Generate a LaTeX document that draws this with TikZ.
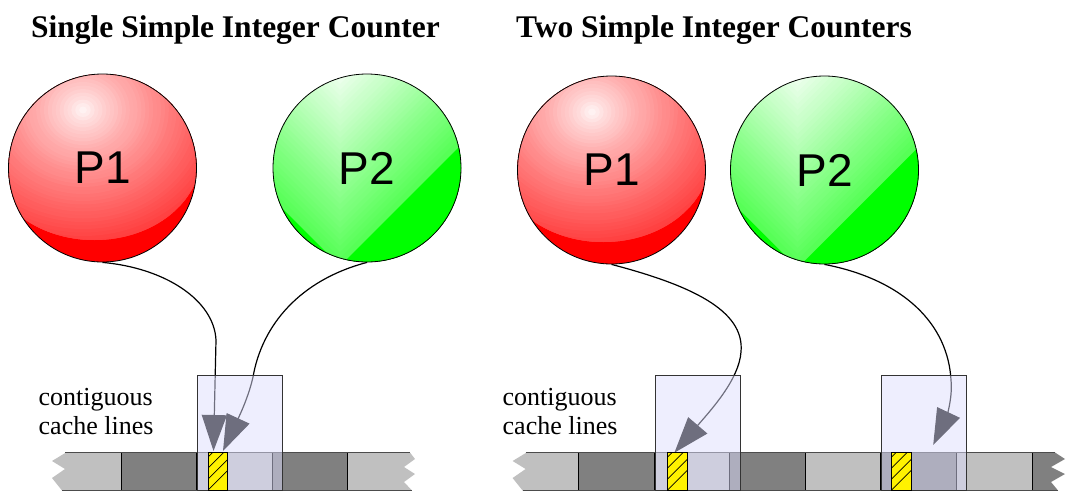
\documentclass[tikz,border=0pt]{standalone}
\usepackage{fontspec}
\setmainfont{Liberation Serif}
\newfontfamily\labelsans{Liberation Sans}
\usetikzlibrary{arrows.meta,calc}

\definecolor{linelight}{RGB}{192,192,192}
\definecolor{linedark}{RGB}{128,128,128}
\definecolor{boxtint}{RGB}{221,221,253}

% shaded red sphere: rings round a highlight, solid red crescent below
\newcommand\redballfill[2]{%
  \begin{scope}[shift={(#1,#2)}]
    \fill[red] (0,0) circle (94);
    \begin{scope}
      \clip (0,0) circle (94);
      \clip (-8,-12) ellipse (106 and 84);
      \foreach \t in {40,39,...,1} {
        \pgfmathtruncatemacro\v{round(78*(\t/40)^0.75)}
        \fill[red!\v!white] (-19.5,-58) ellipse ({3.9*\t} and {3.5*\t});
      }
    \end{scope}
  \end{scope}}

% shaded green sphere: chevron bands, solid green corner at lower right
\newcommand\greenballfill[2]{%
  \begin{scope}[shift={(#1,#2)}]
    \fill[green] (0,0) circle (94);
    \begin{scope}
      \clip (0,0) circle (94);
      \foreach \k in {0,...,31} {
        \pgfmathsetmacro\F{-96+6*\k}
        \pgfmathtruncatemacro\v{round(6+60*\k/31)}
        \fill[green!\v!white] (-227,\F-200) -- (-27,\F) -- (173,\F-200)
          -- (173,120) -- (-227,120) -- cycle;
      }
      \fill[green] (-227,-102) -- (-27,98) -- (173,-102) -- (173,120) -- (-227,120) -- cycle;
    \end{scope}
  \end{scope}}

\begin{document}
\begin{tikzpicture}[x=1pt,y=-1pt,
  title/.style={font=\bfseries\fontsize{31.5}{36}\selectfont, inner sep=0, anchor=base west},
  note/.style={font=\fontsize{26}{29}\selectfont, inner sep=0, anchor=base west},
  ball/.style={circle, draw=black, line width=0.8, minimum size=188, inner sep=0,
    font=\labelsans\fontsize{46}{50}\selectfont},
  conn/.style={draw=black, line width=1.2, -{Triangle[length=36pt,width=25pt]}},
  cachebox/.style={draw=black!80, line width=0.9, fill=boxtint, fill opacity=0.5,
    minimum width=85, minimum height=114.5, inner sep=0, anchor=south west},
  divider/.style={draw=black, line width=0.8},
  rim/.style={draw=black!70, line width=1.6},
  cell/.style={draw=black, line width=1, fill=yellow, minimum width=19.5,
    minimum height=38, inner sep=0, anchor=south west,
    path picture={\foreach \k in {0,...,4}{
      \draw[line width=0.7] ($(path picture bounding box.south west)+(-6,6-11*\k)$) -- ++(45,-45);}}}
]
\useasboundingbox (0,0) rectangle (1066,493);

% ---------- left: one counter ----------
% cache line strip
\fill[linelight] (66,452.5) -- (52,461) -- (65,469) -- (52,478) -- (62,490.5)
  -- (121.7,490.5) -- (121.7,452.5) -- cycle;
\fill[linedark] (121.7,452.5) rectangle (196.5,490.5);
\fill[linelight] (196.5,452.5) rectangle (272.3,490.5);
\fill[linedark] (272.3,452.5) rectangle (347.3,490.5);
\fill[linelight] (347.3,452.5) -- (410,452.5) -- (415,459) -- (404,467) -- (415,474)
  -- (404,482) -- (412,490.5) -- (347.3,490.5) -- cycle;
\foreach \x in {121.7,196.5,272.3,347.3} \draw[divider] (\x,452.5) -- (\x,490.5);
\draw[rim] (65,452.5) -- (410,452.5);
\draw[rim] (62,490.5) -- (412,490.5);

% ---------- right: two counters ----------
\fill[linelight] (526.6,452.5) -- (512.6,461) -- (525.6,469) -- (512.6,478) -- (522.6,490.5)
  -- (578.7,490.5) -- (578.7,452.5) -- cycle;
\fill[linedark] (578.7,452.5) rectangle (654.5,490.5);
\fill[linelight] (654.5,452.5) rectangle (729.6,490.5);
\fill[linedark] (729.6,452.5) rectangle (805.4,490.5);
\fill[linelight] (805.4,452.5) rectangle (880.5,490.5);
\fill[linedark] (880.5,452.5) rectangle (956.7,490.5);
\fill[linelight] (956.7,452.5) rectangle (1032.5,490.5);
\fill[linedark] (1032.5,452.5) -- (1055,452.5) -- (1065,459) -- (1051,467) -- (1065,474)
  -- (1051,482) -- (1058,490.5) -- (1032.5,490.5) -- cycle;
\foreach \x in {578.7,654.5,729.6,805.4,880.5,956.7,1032.5} \draw[divider] (\x,452.5) -- (\x,490.5);
\draw[rim] (525.6,452.5) -- (1055,452.5);
\draw[rim] (522.6,490.5) -- (1058,490.5);

% processors
\redballfill{102.5}{168}
\node[ball] (p1L) at (102.5,168) {P1};
\greenballfill{367}{168}
\node[ball] (p2L) at (367,168) {P2};
\redballfill{611.5}{170}
\node[ball] (p1R) at (611.5,170) {P1};
\greenballfill{824.5}{170}
\node[ball] (p2R) at (824.5,170) {P2};

% arrow targets
\coordinate (tipA) at (213.5,451);
\coordinate (tipB) at (223,451);
\coordinate (tipC) at (674.4,452.7);
\coordinate (tipD) at (933.2,445);

% accesses
\draw[conn] (p1L.south) .. controls (165,268) and (214,300) .. (216,340) -- (tipA);
\draw[conn] (p2L.south) .. controls (300,280) and (262,325) .. (253,377)
  .. controls (248,400) and (235,425) .. (tipB);
\draw[conn] (p1R.south) .. controls (690,285) and (745,310) .. (741,352)
  .. controls (739,380) and (710,411) .. (tipC);
\draw[conn] (p2R.south) .. controls (905,280) and (948,325) .. (951,380)
  .. controls (953,400) and (945,420) .. (tipD);

% cache lines in use (translucent)
\node[cachebox] (boxL) at (196.5,490.5) {};
\node[cachebox] (boxR1) at (654.5,490.5) {};
\node[cachebox] (boxR2) at (880.5,490.5) {};

% counter variables
\node[cell] (cellL) at (207.7,490.5) {};
\node[cell] (cellR1) at (667,490.5) {};
\node[cell] (cellR2) at (891,490.5) {};

% labels
\node[title] (titleL) at (31,37.5) {Single Simple Integer Counter};
\node[title] (titleR) at (516,37.5) {Two Simple Integer Counters};
\node[note] (noteL1) at (38.5,405) {contiguous};
\node[note] (noteL2) at (38.5,434) {cache lines};
\node[note] (noteR1) at (502.5,405) {contiguous};
\node[note] (noteR2) at (502.5,434) {cache lines};
\end{tikzpicture}
\end{document}
